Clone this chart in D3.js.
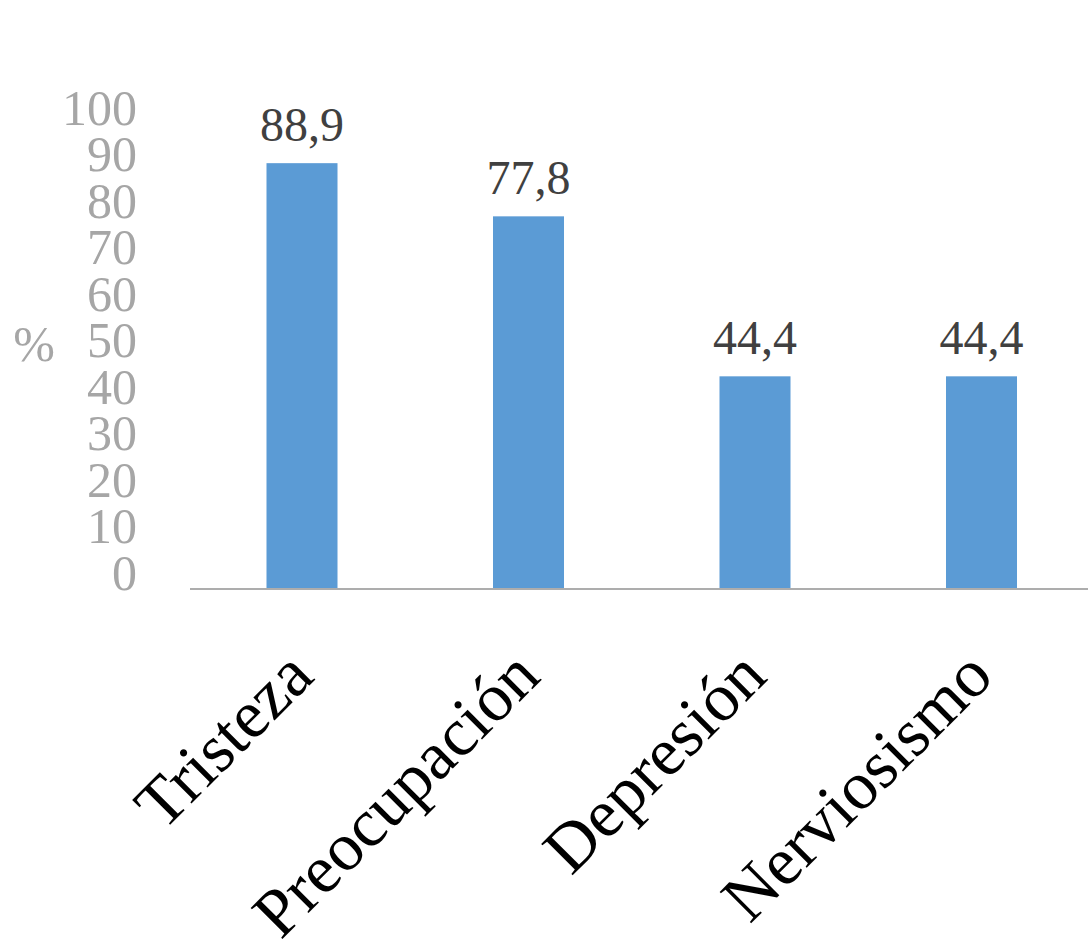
<!DOCTYPE html>
<html>
<head>
<meta charset="utf-8">
<script src="https://cdn.jsdelivr.net/npm/d3@7"></script>
<style>
  html, body { margin: 0; padding: 0; background: #fff; }
  svg { display: block; }
</style>
</head>
<body>
<svg id="chart" width="1088" height="952"></svg>
<script>
const categories = ["Tristeza", "Preocupación", "Depresión", "Nerviosismo"];
const values = [88.9, 77.8, 44.4, 44.4];
const valueLabels = ["88,9", "77,8", "44,4", "44,4"];
const yTicks = [0, 10, 20, 30, 40, 50, 60, 70, 80, 90, 100];
const yAxisTitle = "%";

const svg = d3.select("#chart");
const serif = "'Liberation Serif', 'Times New Roman', serif";

const y = d3.scaleLinear().domain([0, 100]).range([589, 110]);
const yTickLabel = d3.scaleLinear().domain([0, 100]).range([573, 108]);
const x = d3.scaleBand().domain(categories).range([188.75, 1094.75])
  .paddingInner(0.6865).paddingOuter(0.6865 / 2);

// y axis labels
const yAxis = svg.append("g").attr("transform", "translate(137,0)")
  .call(d3.axisLeft(yTickLabel).tickValues(yTicks).tickSize(0).tickPadding(0).tickFormat(d3.format("d")));
yAxis.select(".domain").remove();
yAxis.selectAll("text")
  .attr("fill", "#A6A6A6")
  .style("font-family", serif)
  .style("font-size", "50px");

// axis title
svg.append("text")
  .attr("x", 34).attr("y", 361)
  .attr("text-anchor", "middle")
  .attr("fill", "#A6A6A6")
  .style("font-family", serif)
  .style("font-size", "50px")
  .text(yAxisTitle);

// bars
svg.append("g").selectAll("rect")
  .data(categories)
  .join("rect")
  .attr("x", d => x(d))
  .attr("width", x.bandwidth())
  .attr("y", (d, i) => y(values[i]))
  .attr("height", (d, i) => y(0) - y(values[i]))
  .attr("fill", "#5B9BD5");

// x axis
const xAxis = svg.append("g").attr("transform", `translate(0,${y(0)})`)
  .call(d3.axisBottom(x).tickSize(0).tickPadding(0));
xAxis.select(".domain").remove();
xAxis.append("line")
  .attr("x1", 190).attr("x2", 1088).attr("y1", 0).attr("y2", 0)
  .attr("stroke", "#ADADAD").attr("stroke-width", 2);
xAxis.selectAll(".tick text")
  .attr("text-anchor", "end")
  .attr("dy", null)
  .attr("y", null)
  .attr("transform", "translate(14,90) rotate(-45)")
  .attr("fill", "#000")
  .style("font-family", serif)
  .style("font-size", "68px");

// data labels
svg.append("g").selectAll("text")
  .data(categories)
  .join("text")
  .attr("x", d => x(d) + x.bandwidth() / 2)
  .attr("y", (d, i) => y(values[i]) - 22)
  .attr("text-anchor", "middle")
  .attr("fill", "#404040")
  .style("font-family", serif)
  .style("font-size", "48px")
  .text((d, i) => valueLabels[i]);
</script>
</body>
</html>
